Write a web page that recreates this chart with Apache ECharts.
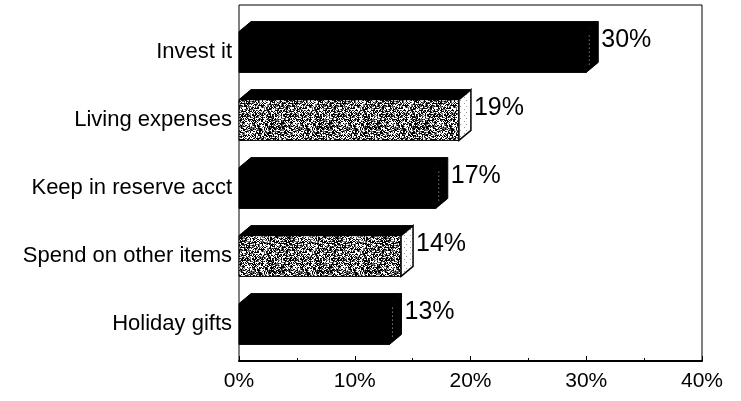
<!DOCTYPE html>
<html>
<head>
<meta charset="utf-8">
<script src="https://cdn.jsdelivr.net/npm/echarts@6/dist/echarts.min.js"></script>
<style>
html,body{margin:0;padding:0;background:#fff;}
#chart{width:741px;height:401px;}
</style>
</head>
<body>
<div id="chart"></div>
<script>
var categories = ['Invest it', 'Living expenses', 'Keep in reserve acct', 'Spend on other items', 'Holiday gifts'];
var values = [30, 19, 17, 14, 13];
var shading = ['solid', 'texture', 'solid', 'texture', 'solid'];
var xTicks = [0, 10, 20, 30, 40];

// stipple texture (deterministic hash dither, not data)
function hash(x, y) {
  var n = (x * 374761393 + y * 668265263) | 0;
  n = (n ^ (n >>> 13)) * 1274126177 | 0;
  n = n ^ (n >>> 16);
  return (n >>> 0) % 1000;
}
function makeTexture() {
  var S = 48;
  var c = document.createElement('canvas');
  c.width = S; c.height = S;
  var ctx = c.getContext('2d');
  ctx.fillStyle = '#ffffff';
  ctx.fillRect(0, 0, S, S);
  for (var y = 0; y < S; y++) {
    for (var x = 0; x < S; x++) {
      var h = hash(x, y);
      if (h < 430) { ctx.fillStyle = '#000000'; ctx.fillRect(x, y, 1, 1); }
      else if (h < 650) { ctx.fillStyle = '#6a6a6a'; ctx.fillRect(x, y, 1, 1); }
    }
  }
  return c;
}
function makeSideTexture() {
  var c = document.createElement('canvas');
  c.width = 6; c.height = 6;
  var ctx = c.getContext('2d');
  ctx.fillStyle = '#ffffff';
  ctx.fillRect(0, 0, 6, 6);
  ctx.fillStyle = '#999999';
  ctx.fillRect(2, 1, 1, 1);
  ctx.fillRect(4, 4, 1, 1);
  return c;
}
var tex = makeTexture();
var sideTex = makeSideTexture();

var data = values.map(function (v, i) { return [v, i]; });

var chart = echarts.init(document.getElementById('chart'));
chart.setOption({
  animation: false,
  grid: [
    { left: 239, right: 39, top: 5, bottom: 40, show: true, borderColor: '#000', borderWidth: 1, backgroundColor: 'transparent' },
    { left: 239, right: 39, top: 18, bottom: 43 }
  ],
  xAxis: [
    {
      gridIndex: 0, type: 'value', min: 0, max: 40, interval: 10,
      axisLine: { show: true, lineStyle: { color: '#000', width: 2 } },
      axisTick: { show: true, inside: true, length: 5, lineStyle: { color: '#000', width: 1 } },
      minorTick: { show: true, splitNumber: 2, length: 3, lineStyle: { color: '#000' } },
      splitLine: { show: false },
      axisLabel: {
        color: '#000', fontSize: 21, fontFamily: 'Liberation Sans, Arial, sans-serif', margin: 10,
        formatter: function (v) { return v + '%'; }
      }
    },
    { gridIndex: 1, type: 'value', min: 0, max: 40, show: false }
  ],
  yAxis: [
    { gridIndex: 0, type: 'value', show: false, min: 0, max: 1 },
    {
      gridIndex: 1, type: 'category', data: categories, inverse: true,
      axisLine: { show: false }, axisTick: { show: false },
      axisLabel: { color: '#000', fontSize: 22, fontFamily: 'Liberation Sans, Arial, sans-serif', margin: 7, padding: [4, 0, 0, 0] }
    }
  ],
  series: [
    {
      type: 'custom', xAxisIndex: 1, yAxisIndex: 1,
      data: data,
      encode: { x: 0, y: 1 },
      renderItem: function (params, api) {
        var v = api.value(0), c = api.value(1);
        var p0 = api.coord([0, c]);
        var p1 = api.coord([v, c]);
        var band = api.size([0, 1])[1];
        var h = band * 0.6;
        var dx = 12, dy = 10;
        var x0 = p0[0], x1 = p1[0];
        var top = p0[1] - h / 2, bot = p0[1] + h / 2;
        var isTex = shading[params.dataIndex] === 'texture';
        var children = [];
        children.push({
          type: 'rect',
          shape: { x: x0, y: top, width: x1 - x0, height: h },
          style: isTex ? { fill: { image: tex, repeat: 'repeat' }, stroke: '#000', lineWidth: 1 }
                       : { fill: '#000', stroke: '#000', lineWidth: 1 }
        });
        children.push({
          type: 'polygon',
          shape: { points: [[x0, top], [x0 + dx, top - dy], [x1 + dx, top - dy], [x1, top]] },
          style: { fill: '#000', stroke: '#000', lineWidth: 1 }
        });
        children.push({
          type: 'polygon',
          shape: { points: [[x1, top], [x1 + dx, top - dy], [x1 + dx, bot - dy], [x1, bot]] },
          style: isTex ? { fill: { image: sideTex, repeat: 'repeat' }, stroke: '#000', lineWidth: 1.5 }
                       : { fill: '#000', stroke: '#000', lineWidth: 1 }
        });
        if (!isTex) {
          children.push({
            type: 'line',
            shape: { x1: x1 + 3, y1: top + 4, x2: x1 + 3, y2: bot - 6 },
            style: { stroke: '#bbbbbb', lineWidth: 1, lineDash: [1, 3] }
          });
        }
        children.push({
          type: 'text',
          style: {
            x: x1 + dx + 3, y: top + 9,
            text: values[params.dataIndex] + '%',
            fill: '#000', fontSize: 25, fontFamily: 'Liberation Sans, Arial, sans-serif',
            verticalAlign: 'middle', align: 'left'
          }
        });
        return { type: 'group', children: children };
      }
    }
  ]
});
</script>
</body>
</html>
